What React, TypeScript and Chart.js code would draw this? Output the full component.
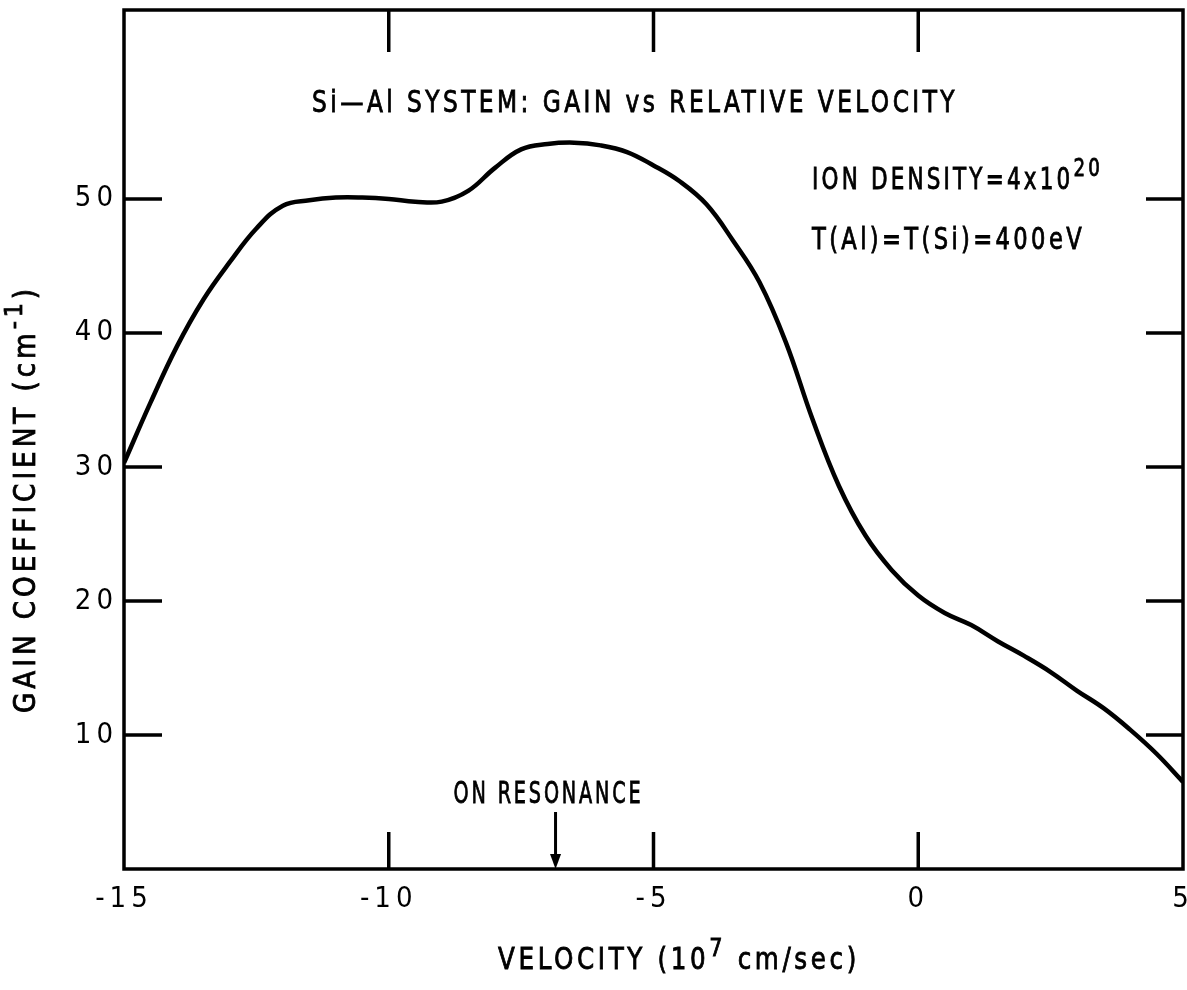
import React, { useEffect, useRef } from 'react';
import { Chart, registerables } from 'chart.js';

Chart.register(...registerables);

// ---- data ----
const velocity = [
  -15, -14.5, -14, -13.5, -13, -12.5, -12, -11.5, -11, -10.5, -10, -9.5, -9, -8.5, -8, -7.5, -7,
  -6.5, -6, -5.5, -5, -4.5, -4, -3.5, -3, -2.5, -2, -1.5, -1, -0.5, 0, 0.5, 1, 1.5, 2, 2.5, 3, 3.5,
  4, 4.5, 5,
];
const gain = [
  30.3, 34.8, 39.0, 42.5, 45.3, 47.8, 49.5, 49.9, 50.1, 50.1, 50.0, 49.8, 49.8, 50.6, 52.3, 53.7, 54.1,
  54.2, 54.0, 53.5, 52.5, 51.3, 49.6, 46.9, 43.8, 39.3, 33.6, 28.6, 24.9, 22.3, 20.4, 19.1, 18.2, 17.0,
  15.9, 14.7, 13.3, 12.0, 10.4, 8.6, 6.5,
];
const xTickValues = [-15, -10, -5, 0, 5];
const xTickLabels = ['-15', '-10', '-5', '0', '5'];
const yTickValues = [10, 20, 30, 40, 50];
const yTickLabels = ['10', '20', '30', '40', '50'];
const xInnerTicks = [-10, -5, 0];
const xMin = -15;
const xMax = 5;
const yMin = 0;
const yMax = 64.1;
const resonanceVelocity = -6.85;

const titleText = 'Si\u2014Al SYSTEM: GAIN vs RELATIVE VELOCITY';
const densityText = 'ION DENSITY=4x10';
const densityExp = '20';
const tempText = 'T(Al)=T(Si)=400eV';
const resonanceText = 'ON RESONANCE';
const xTitleMain = 'VELOCITY (10';
const xTitleExp = '7';
const xTitleTail = ' cm/sec)';
const yTitleMain = 'GAIN COEFFICIENT (cm';
const yTitleExp = '-1';
const yTitleTail = ')';

const FONT = "'Liberation Sans Narrow', 'DejaVu Sans Condensed', 'DejaVu Sans', sans-serif";

type Part = { t: string; sup?: boolean };

function drawParts(
  ctx: CanvasRenderingContext2D,
  parts: Part[],
  x: number,
  y: number,
  size: number,
  spacing: number,
  width: number,
  align: 'left' | 'center' | 'right'
) {
  ctx.save();
  (ctx as any).letterSpacing = spacing + 'px';
  const supSize = size * 0.85;
  const widths = parts.map((p) => {
    ctx.font = `${p.sup ? supSize : size}px ${FONT}`;
    return ctx.measureText(p.t).width;
  });
  const total = widths.reduce((a, b) => a + b, 0);
  const sx = width ? width / total : 1;
  const w = total * sx;
  const x0 = align === 'center' ? x - w / 2 : align === 'right' ? x - w : x;
  ctx.translate(x0, y);
  ctx.scale(sx, 1);
  ctx.textAlign = 'left';
  ctx.textBaseline = 'alphabetic';
  ctx.fillStyle = '#000';
  ctx.strokeStyle = '#000';
  ctx.lineWidth = 0.8;
  let cx = 0;
  parts.forEach((p, i) => {
    ctx.font = `${p.sup ? supSize : size}px ${FONT}`;
    const yy = p.sup ? -size * 0.42 : 0;
    ctx.fillText(p.t, cx, yy);
    ctx.strokeText(p.t, cx, yy);
    cx += widths[i];
  });
  ctx.restore();
}

const spacingPlugin = {
  id: 'spacingPlugin',
  beforeDraw(chart: any) {
    (chart.ctx as any).letterSpacing = '5px';
  },
  afterDatasetsDraw(chart: any) {
    (chart.ctx as any).letterSpacing = '0px';
  },
};

const framePlugin = {
  id: 'framePlugin',
  afterDraw(chart: any) {
    const { ctx, chartArea, scales } = chart;
    const xs = scales.x;
    const ys = scales.y;
    ctx.save();
    (ctx as any).letterSpacing = '0px';
    ctx.strokeStyle = '#000';
    ctx.lineWidth = 3.5;
    ctx.lineCap = 'butt';
    ctx.strokeRect(chartArea.left, chartArea.top, chartArea.right - chartArea.left, chartArea.bottom - chartArea.top);
    // inward ticks
    ctx.beginPath();
    yTickValues.forEach((v) => {
      const py = ys.getPixelForValue(v);
      ctx.moveTo(chartArea.left, py);
      ctx.lineTo(chartArea.left + 38, py);
      ctx.moveTo(chartArea.right, py);
      ctx.lineTo(chartArea.right - 37, py);
    });
    xInnerTicks.forEach((v) => {
      const px = xs.getPixelForValue(v);
      ctx.moveTo(px, chartArea.bottom);
      ctx.lineTo(px, chartArea.bottom - 37);
      ctx.moveTo(px, chartArea.top);
      ctx.lineTo(px, chartArea.top + 42);
    });
    ctx.stroke();

    // resonance arrow
    const ax = xs.getPixelForValue(resonanceVelocity);
    ctx.beginPath();
    ctx.lineWidth = 3;
    ctx.moveTo(ax, chartArea.bottom - 57);
    ctx.lineTo(ax, chartArea.bottom - 8);
    ctx.stroke();
    ctx.beginPath();
    ctx.fillStyle = '#000';
    ctx.moveTo(ax - 5.5, chartArea.bottom - 15);
    ctx.lineTo(ax + 5.5, chartArea.bottom - 15);
    ctx.lineTo(ax, chartArea.bottom);
    ctx.closePath();
    ctx.fill();
    ctx.restore();

    // texts
    drawParts(ctx, [{ t: titleText }], 635, 112, 30, 4, 646, 'center');
    drawParts(ctx, [{ t: densityText }, { t: densityExp, sup: true }], 812, 189, 30, 4, 291, 'left');
    drawParts(ctx, [{ t: tempText }], 812, 249, 30, 4, 273, 'left');
    drawParts(ctx, [{ t: resonanceText }], ax - 7, 803, 30, 4, 190, 'center');
    drawParts(
      ctx,
      [{ t: xTitleMain }, { t: xTitleExp, sup: true }, { t: xTitleTail }],
      679,
      969,
      30,
      4,
      362,
      'center'
    );
    ctx.save();
    ctx.translate(35, 499);
    ctx.rotate(-Math.PI / 2);
    drawParts(
      ctx,
      [{ t: yTitleMain }, { t: yTitleExp, sup: true }, { t: yTitleTail }],
      0,
      0,
      30,
      4,
      428,
      'center'
    );
    ctx.restore();
  },
};

export default function App() {
  const canvasRef = useRef<HTMLCanvasElement | null>(null);

  useEffect(() => {
    const canvas = canvasRef.current;
    if (!canvas) return;
    const points = velocity.map((v, i) => ({ x: v, y: gain[i] }));
    const chart = new Chart(canvas, {
      type: 'scatter',
      data: {
        datasets: [
          {
            data: points,
            showLine: true,
            borderColor: '#000',
            borderWidth: 4.5,
            pointRadius: 0,
            tension: 0.4,
            fill: false,
          },
        ],
      },
      options: {
        responsive: false,
        animation: false,
        devicePixelRatio: 1,
        layout: { padding: { left: 0, top: 10, right: 4, bottom: 0 } },
        plugins: { legend: { display: false }, tooltip: { enabled: false }, title: { display: false } },
        scales: {
          x: {
            type: 'linear',
            min: xMin,
            max: xMax,
            position: 'bottom',
            grid: { display: false, drawTicks: false, tickLength: 0 },
            border: { display: false },
            afterBuildTicks: (s: any) => {
              s.ticks = xTickValues.map((v) => ({ value: v }));
            },
            afterFit: (s: any) => {
              s.height = 121;
              s.paddingLeft = 0;
              s.paddingRight = 0;
            },
            ticks: {
              autoSkip: false,
              maxRotation: 0,
              padding: 13,
              color: '#000',
              font: { family: FONT, size: 29 },
              callback: (v: any) => {
                const i = xTickValues.indexOf(Number(v));
                return i >= 0 ? xTickLabels[i] : '';
              },
            },
          },
          y: {
            type: 'linear',
            min: yMin,
            max: yMax,
            position: 'left',
            grid: { display: false, drawTicks: false, tickLength: 0 },
            border: { display: false },
            afterBuildTicks: (s: any) => {
              s.ticks = yTickValues.map((v) => ({ value: v }));
            },
            afterFit: (s: any) => {
              s.width = 124;
              s.paddingTop = 0;
              s.paddingBottom = 0;
            },
            ticks: {
              autoSkip: false,
              padding: 6,
              color: '#000',
              font: { family: FONT, size: 29 },
              callback: (v: any) => {
                const i = yTickValues.indexOf(Number(v));
                return i >= 0 ? yTickLabels[i] : '';
              },
            },
          },
        },
      },
      plugins: [spacingPlugin, framePlugin],
    });
    return () => chart.destroy();
  }, []);

  return (
    <div style={{ position: 'absolute', left: 0, top: 0, width: 1187, height: 990, background: '#fff' }}>
      <canvas ref={canvasRef} width={1187} height={990} style={{ display: 'block' }} />
    </div>
  );
}
